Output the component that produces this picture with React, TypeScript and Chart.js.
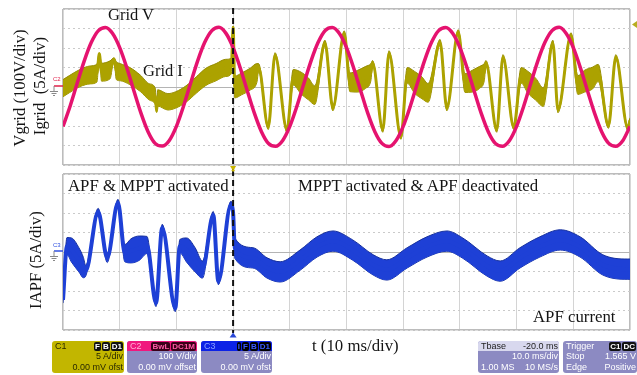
import React, { useEffect, useRef } from 'react';
import { Chart, registerables } from 'chart.js';

Chart.register(...registerables);

// ---------- data ----------
const T_MIN_MS = 0;
const T_MAX_MS = 100;
const MS_PER_DIV = 10;
const SWITCH_TIME_MS = 30; // APF deactivated here

const VOLT_PER_DIV = 100;
const AMP_PER_DIV = 5;
const HALF_DIVS = 4;

// Grid voltage (V), one sample every 1.25 ms from 0 to 100 ms
const VGRID_STEP_MS = 1.25;
const vgridVolts = [
  -202, -99, 19, 134, 229, 289, 305, 274, 202, 99, -19, -134, -229, -289, -303, -274,
  -202, -99, 19, 134, 229, 289, 306, 275, 202, 99, -19, -134, -229, -290, -304, -274,
  -202, -99, 19, 134, 229, 290, 305, 274, 202, 99, -19, -134, -229, -289, -305, -274,
  -202, -99, 19, 134, 229, 289, 305, 274, 202, 99, -19, -134, -229, -289, -304, -274,
  -202, -99, 19, 134, 229, 289, 306, 274, 202, 99, -19, -134, -229, -289, -304, -274,
  -202,
];

// Grid current: [time ms, trace centre A, noise half-band A]
const igridTrace = [
  [0, -0.3, 2.2], [1.2, 0.8, 2.2], [3.0, 2.3, 2.2], [4.8, 3.1, 2.3], [6.0, 3.6, 2.3],
  [6.4, 8.5, 0.3], [6.8, 3.8, 2.3], [8.3, 4.4, 2.3], [9.0, 7.2, 0.3], [9.4, 4.2, 2.3],
  [10.1, 3.8, 2.2], [11.8, 2.8, 2.2], [13.6, 1.0, 2.1], [15.3, -1.3, 2.1], [16.3, -2.5, 2.1],
  [16.5, -6.2, 0.3], [16.7, -2.8, 2.1], [18.5, -3.8, 2.1], [19.9, -3.3, 2.1], [21.7, -1.8, 2.1],
  [23.5, 0.5, 2.1], [25.2, 2.6, 2.2], [27.0, 3.8, 2.2], [28.7, 4.9, 2.2], [29.7, 5.4, 2.0],
  [30.0, 15.3, 0.3], [30.3, 0.0, 2.8],
  [31.5, 0.8, 2.8], [33.0, 2.0, 2.8], [34.2, 3.6, 2.4], [34.5, 5.0, 1.0],
  [36.2, -10.3, 0.6], [37.4, 8.2, 0.6], [39.5, -11.0, 0.6], [40.6, 2.5, 2.0],
  [42.0, 1.0, 2.8], [43.3, -0.5, 2.8], [44.4, -2.1, 2.4],
  [46.2, 11.3, 0.7], [47.6, -5.4, 0.7], [49.6, 13.8, 0.6], [50.6, 1.2, 2.4],
  [52.0, 1.5, 2.8], [53.4, 2.5, 2.8], [54.3, 3.8, 2.2], [54.6, 6.2, 0.6],
  [56.4, -11.0, 0.6], [57.5, 8.7, 0.6], [59.6, -12.8, 0.6], [60.7, 3.0, 2.0],
  [62.0, 1.2, 2.8], [63.3, -0.2, 2.8], [64.4, -1.5, 2.4],
  [66.5, 11.5, 0.7], [67.7, -5.4, 0.7], [69.7, 14.1, 0.6], [70.9, 1.0, 2.4],
  [72.2, 1.5, 2.8], [73.5, 2.5, 2.8], [74.3, 3.8, 2.2], [74.6, 6.2, 0.6],
  [76.5, -11.0, 0.6], [77.6, 7.7, 0.6], [79.5, -10.3, 0.6], [80.8, 3.0, 2.0],
  [82.0, 1.2, 2.8], [83.4, -0.6, 2.8], [84.7, -2.6, 2.4],
  [86.4, 11.3, 0.7], [87.3, -5.9, 0.7], [89.6, 13.3, 0.6], [90.8, 0.5, 2.4],
  [92.0, 1.5, 2.8], [93.4, 2.3, 2.8], [94.4, 3.6, 2.2],
  [96.2, -10.0, 0.6], [97.5, 7.7, 0.6], [99.6, -10.5, 0.6], [100, -8.5, 0.6],
];

// APF current: [time ms, trace centre A, noise half-band A]
const iapfTrace = [
  [0, -12.3, 0.8], [0.7, 1.5, 2.2], [1.5, 0.5, 3.1], [2.8, -2.0, 3.1], [3.6, -4.0, 2.6],
  [4.0, -4.8, 1.4], [6.2, 10.3, 0.9], [7.8, -1.5, 1.2], [9.7, 12.6, 0.9], [10.9, -0.3, 2.2],
  [12.0, 0.3, 3.1], [13.5, 1.0, 3.1], [14.8, 1.8, 2.2],
  [16.4, -13.1, 0.9], [17.5, 6.2, 0.9], [19.8, -14.4, 0.9], [20.6, 1.5, 1.7],
  [21.8, 0.5, 3.1], [23.3, -2.0, 3.1], [24.6, -4.5, 2.2],
  [26.5, 9.5, 0.9], [27.4, -7.5, 0.9], [29.6, 12.1, 0.9], [30.0, 10.0, 1.0],
  [30.3, 1.0, 2.6], [33.5, -1.5, 2.6], [36.0, -4.1, 2.6], [38.3, -5.1, 2.6], [41.8, -2.1, 2.6],
  [44.8, 1.3, 2.6], [47.6, 2.8, 2.6], [51.1, 0.5, 2.6], [54.7, -3.3, 2.6], [57.1, -4.6, 2.6],
  [60.7, -1.5, 2.6], [64.2, 1.3, 2.6], [67.7, 2.8, 2.6], [70.5, 1.0, 2.6], [74.8, -3.6, 2.6],
  [77.1, -4.9, 2.6], [80.6, -1.5, 2.6], [84.1, 1.3, 2.6], [87.7, 3.1, 2.6], [91.2, 1.3, 2.6],
  [95.2, -3.3, 2.6], [99.5, -4.4, 2.6], [100, -4.4, 2.6],
];

// ---------- styling ----------
const PINK = '#e5136f';
const OLIVE = '#aca200';
const OLIVE_EDGE = '#958c00';
const BLUE = '#1e40d6';
const BLUE_EDGE = '#16309e';
const LAVENDER = '#8c8ac2';
const SERIF = '"Liberation Serif", "Times New Roman", serif';
const SANS = '"Liberation Sans", Arial, sans-serif';

const vgridPoints = vgridVolts.map((v, i) => ({ x: i * VGRID_STEP_MS, y: v }));
const mid = (tr: number[][]) => tr.map(([t, c]) => ({ x: t, y: c }));
const env = (tr: number[][], k: number) => tr.map(([t, c, h]) => ({ x: t, y: c + k * h }));

const traceSets = (tr: number[][], axis: string, fillC: string, edgeC: string, lw: number) => [
  {
    label: 'mid', data: mid(tr), yAxisID: axis, borderColor: fillC, borderWidth: lw,
    pointRadius: 0, cubicInterpolationMode: 'monotone', fill: false,
  },
  {
    label: 'upper', data: env(tr, 1), yAxisID: axis, borderColor: edgeC, borderWidth: 1,
    backgroundColor: fillC, pointRadius: 0, cubicInterpolationMode: 'monotone', fill: '+1',
  },
  {
    label: 'lower', data: env(tr, -1), yAxisID: axis, borderColor: edgeC, borderWidth: 1,
    pointRadius: 0, cubicInterpolationMode: 'monotone', fill: false,
  },
];

const commonScales = () => ({
  x: {
    type: 'linear', min: T_MIN_MS, max: T_MAX_MS,
    ticks: { display: false, stepSize: MS_PER_DIV },
    grid: {
      drawTicks: false,
      color: (c: any) => (c.tick.value === T_MIN_MS || c.tick.value === T_MAX_MS ? '#bcbcbc' : '#d4d4d4'),
      lineWidth: (c: any) => (c.tick.value === T_MIN_MS || c.tick.value === T_MAX_MS ? 1.6 : 1),
    },
    border: { display: false },
  },
  yGrid: {
    type: 'linear', position: 'left', min: -HALF_DIVS, max: HALF_DIVS,
    ticks: { display: false, stepSize: 1 },
    grid: { drawTicks: false, color: '#cacaca', lineWidth: 1, borderDash: [2, 3] },
    border: { display: false, dash: [2, 3] },
  },
  yFrame: {
    type: 'linear', position: 'left', min: -HALF_DIVS, max: HALF_DIVS,
    ticks: { display: false, stepSize: HALF_DIVS },
    grid: {
      drawTicks: false,
      color: (c: any) => (c.tick.value === 0 ? '#b4b4b4' : '#bcbcbc'),
      lineWidth: (c: any) => (c.tick.value === 0 ? 1 : 1.6),
    },
    border: { display: false },
  },
});

const scopePlugin = (lineTop: number, lineBottom: number, ground: string, extra: (ctx: CanvasRenderingContext2D, x: number) => void) => ({
  id: 'scopeMarks',
  afterDatasetsDraw(chart: any) {
    const ctx: CanvasRenderingContext2D = chart.ctx;
    const x = chart.scales.x.getPixelForValue(SWITCH_TIME_MS);
    const y0 = chart.scales.yFrame.getPixelForValue(0);
    const left = chart.chartArea.left;
    ctx.save();
    // switching instant
    ctx.strokeStyle = '#111';
    ctx.lineWidth = 2;
    ctx.setLineDash([6, 4]);
    ctx.beginPath();
    ctx.moveTo(x, lineTop);
    ctx.lineTo(x, lineBottom);
    ctx.stroke();
    ctx.setLineDash([]);
    // channel ground marker
    ctx.strokeStyle = ground;
    ctx.lineWidth = 1.5;
    ctx.beginPath();
    ctx.moveTo(left - 9, y0 - 1);
    ctx.lineTo(left, y0 - 1);
    ctx.stroke();
    ctx.strokeStyle = '#888';
    ctx.lineWidth = 1;
    ctx.beginPath();
    ctx.moveTo(left - 9, y0 - 1);
    ctx.lineTo(left - 9, y0 + 4);
    ctx.moveTo(left - 13, y0 + 4.5);
    ctx.lineTo(left - 5, y0 + 4.5);
    ctx.moveTo(left - 11.5, y0 + 6.5);
    ctx.lineTo(left - 6.5, y0 + 6.5);
    ctx.moveTo(left - 10, y0 + 8.5);
    ctx.lineTo(left - 8, y0 + 8.5);
    ctx.stroke();
    extra(ctx, x);
    ctx.restore();
  },
});

function useChart(ref: React.RefObject<HTMLCanvasElement>, make: (c: HTMLCanvasElement) => Chart) {
  useEffect(() => {
    if (!ref.current) return;
    const chart = make(ref.current);
    return () => chart.destroy();
  }, []);
}

const Label = ({ x, base, size, children }: any) => (
  <div
    style={{
      position: 'absolute', left: x, top: base - 0.8375 * size, font: `${size}px ${SERIF}`,
      lineHeight: `${size}px`, whiteSpace: 'pre', color: '#141414',
    }}
  >
    {children}
  </div>
);

const VLabel = ({ cx, cy, size, children }: any) => (
  <div
    style={{
      position: 'absolute', left: cx, top: cy, font: `${size}px ${SERIF}`, lineHeight: `${size}px`,
      whiteSpace: 'pre', color: '#141414', transform: 'translate(-50%, -50%) rotate(-90deg)',
    }}
  >
    {children}
  </div>
);

const Badge = ({ children, bg = '#111', fg = '#fff' }: any) => (
  <span
    style={{
      background: bg, color: fg, borderRadius: 2, padding: '0 1px', marginLeft: 1,
      fontSize: 8, lineHeight: '9px', fontWeight: 'bold', display: 'inline-block',
    }}
  >
    {children}
  </span>
);

const Row = ({ l, r, color, bg, h = 10 }: any) => (
  <div
    style={{
      display: 'flex', justifyContent: 'space-between', alignItems: 'center', height: h,
      padding: '0 1px 0 3px', background: bg, color, lineHeight: `${h}px`, whiteSpace: 'pre',
    }}
  >
    <span>{l}</span>
    <span>{r}</span>
  </div>
);

const Box = ({ x, w, bg, children }: any) => (
  <div
    style={{
      position: 'absolute', left: x, top: 341, width: w, height: 32, background: bg,
      borderRadius: 3, overflow: 'hidden', font: `9px ${SANS}`,
    }}
  >
    {children}
  </div>
);

export default function App() {
  const topRef = useRef<HTMLCanvasElement>(null);
  const botRef = useRef<HTMLCanvasElement>(null);

  useChart(topRef, (c) =>
    new Chart(c, {
      type: 'line',
      data: {
        datasets: [
          {
            label: 'Grid V', data: vgridPoints, yAxisID: 'yV', borderColor: PINK, borderWidth: 3.5,
            pointRadius: 0, cubicInterpolationMode: 'monotone', fill: false,
          },
          ...traceSets(igridTrace, 'yI', OLIVE, OLIVE_EDGE, 3),
        ] as any,
      },
      options: {
        animation: false, responsive: false, maintainAspectRatio: false,
        layout: { padding: { left: 63, right: 7, top: 9, bottom: 5 } },
        plugins: { legend: { display: false }, tooltip: { enabled: false } },
        scales: {
          ...commonScales(),
          yV: { display: false, min: -HALF_DIVS * VOLT_PER_DIV, max: HALF_DIVS * VOLT_PER_DIV },
          yI: { display: false, min: -HALF_DIVS * AMP_PER_DIV, max: HALF_DIVS * AMP_PER_DIV },
        } as any,
      },
      plugins: [
        scopePlugin(8, 170, '#e0204a', (ctx, x) => {
          ctx.fillStyle = '#c8b400';
          ctx.beginPath();
          ctx.moveTo(x - 3, 166);
          ctx.lineTo(x + 3, 166);
          ctx.lineTo(x, 171);
          ctx.closePath();
          ctx.fill();
          ctx.fillStyle = '#b8ac20';
          ctx.beginPath();
          ctx.moveTo(637, 21);
          ctx.lineTo(637, 28);
          ctx.lineTo(632, 24.5);
          ctx.closePath();
          ctx.fill();
        }) as any,
      ],
    })
  );

  useChart(botRef, (c) =>
    new Chart(c, {
      type: 'line',
      data: { datasets: traceSets(iapfTrace, 'yA', BLUE, BLUE_EDGE, 4) as any },
      options: {
        animation: false, responsive: false, maintainAspectRatio: false,
        layout: { padding: { left: 63, right: 7, top: 4, bottom: 8 } },
        plugins: { legend: { display: false }, tooltip: { enabled: false } },
        scales: {
          ...commonScales(),
          yA: { display: false, min: -HALF_DIVS * AMP_PER_DIV, max: HALF_DIVS * AMP_PER_DIV },
        } as any,
      },
      plugins: [
        scopePlugin(0, 163, '#3050e0', (ctx, x) => {
          ctx.fillStyle = '#c8b400';
          ctx.beginPath();
          ctx.moveTo(x - 2, 0);
          ctx.lineTo(x + 2, 0);
          ctx.lineTo(x, 2);
          ctx.closePath();
          ctx.fill();
          ctx.fillStyle = '#2a48d8';
          ctx.beginPath();
          ctx.moveTo(x - 3.5, 167.5);
          ctx.lineTo(x + 3.5, 167.5);
          ctx.lineTo(x, 162.5);
          ctx.closePath();
          ctx.fill();
        }) as any,
      ],
    })
  );

  return (
    <div style={{ position: 'absolute', left: 0, top: 0, width: 637, height: 375, background: '#fff', overflow: 'hidden' }}>
      <canvas ref={topRef} width={637} height={170} style={{ position: 'absolute', left: 0, top: 0, width: 637, height: 170 }} />
      <canvas ref={botRef} width={637} height={168} style={{ position: 'absolute', left: 0, top: 170, width: 637, height: 168 }} />

      <VLabel cx={19.5} cy={88} size={16.7}>Vgrid (100V/div)</VLabel>
      <VLabel cx={40} cy={86} size={16.7}>Igrid  (5A/div)</VLabel>
      <VLabel cx={35.5} cy={260} size={16.7}>IAPF (5A/div)</VLabel>

      <div style={{ position: 'absolute', left: 53, top: 76, font: `6px ${SANS}`, color: '#e0204a' }}>C2</div>
      <div style={{ position: 'absolute', left: 53, top: 242, font: `6px ${SANS}`, color: '#3050e0' }}>C3</div>

      <Label x={108} base={21} size={16.5}>Grid V</Label>
      <Label x={143} base={77} size={16.5}>Grid I</Label>
      <Label x={68} base={192} size={16.8}>APF &amp; MPPT activated</Label>
      <Label x={298} base={192} size={16.8}>MPPT activated &amp; APF deactivated</Label>
      <Label x={533} base={323} size={16.8}>APF current</Label>
      <Label x={312} base={352} size={16.8}>t (10 ms/div)</Label>

      <Box x={52} w={72} bg="#c2b600">
        <Row l="C1" r={<span><Badge>F</Badge><Badge>B</Badge><Badge>D1</Badge></span>} color="#2a2a00" />
        <Row l="" r="5 A/div" color="#2a2a00" h={11} />
        <Row l="" r="0.00 mV ofst" color="#2a2a00" h={11} />
      </Box>
      <Box x={127} w={70} bg={LAVENDER}>
        <Row l="C2" r={<span><Badge bg="#3a0018" fg="#ff5aa5">BwL</Badge><Badge bg="#3a0018" fg="#ff5aa5">DC1M</Badge></span>} color="#ffb0d4" bg="#f0187e" />
        <Row l="" r="100 V/div" color="#fff" h={11} />
        <Row l="" r="0.00 mV offset" color="#fff" h={11} />
      </Box>
      <Box x={201} w={71} bg={LAVENDER}>
        <Row l="C3" r={<span><Badge bg="#000" fg="#3b5cff">I</Badge><Badge bg="#000" fg="#3b5cff">F</Badge><Badge bg="#000" fg="#3b5cff">B</Badge><Badge bg="#000" fg="#3b5cff">D1</Badge></span>} color="#8aa0ff" bg="#0c22e6" />
        <Row l="" r="5 A/div" color="#fff" h={11} />
        <Row l="" r="0.00 mV ofst" color="#fff" h={11} />
      </Box>
      <Box x={478} w={81} bg={LAVENDER}>
        <Row l="Tbase" r="-20.0 ms" color="#222" bg="#d8d8ee" />
        <Row l="" r="10.0 ms/div" color="#fff" h={11} />
        <Row l="1.00 MS" r="10 MS/s" color="#fff" h={11} />
      </Box>
      <Box x={563} w={74} bg={LAVENDER}>
        <Row l="Trigger" r={<span><Badge>C1</Badge><Badge>DC</Badge></span>} color="#fff" />
        <Row l="Stop" r="1.565 V" color="#fff" h={11} />
        <Row l="Edge" r="Positive" color="#fff" h={11} />
      </Box>
    </div>
  );
}
